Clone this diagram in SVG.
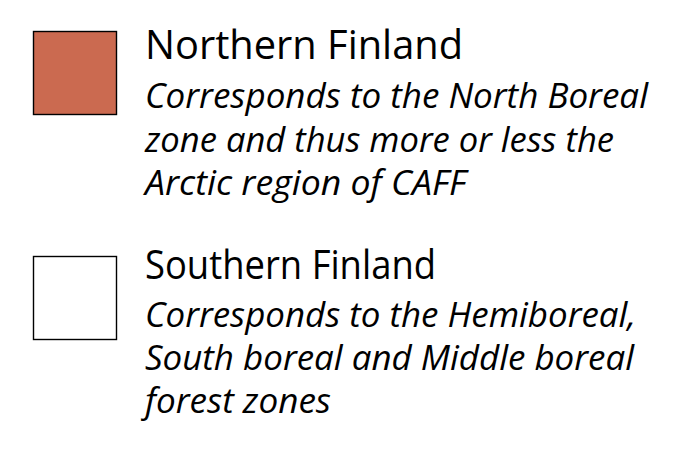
<svg xmlns="http://www.w3.org/2000/svg" width="699" height="458" viewBox="0 0 699 458">
<style>
.sw{stroke:#000;stroke-width:1.4}
.t{font-family:"Open Sans","Liberation Sans",Arial,sans-serif;font-size:40px;fill:#000}
.d{font-family:"Open Sans","Liberation Sans",Arial,sans-serif;font-size:34px;font-style:italic;fill:#000}
</style>
<rect width="699" height="458" fill="#fff"/>
<g id="northern">
<rect class="sw" x="33.5" y="31.5" width="83" height="83" fill="#CB6A50"/>
<text class="t" x="145" y="59" textLength="318" lengthAdjust="spacingAndGlyphs">Northern Finland</text>
<text class="d" x="145" y="108" textLength="503" lengthAdjust="spacingAndGlyphs">Corresponds to the North Boreal</text>
<text class="d" x="145" y="152" textLength="469" lengthAdjust="spacingAndGlyphs">zone and thus more or less the</text>
<text class="d" x="145" y="195" textLength="321" lengthAdjust="spacingAndGlyphs">Arctic region of CAFF</text>
</g>
<g id="southern">
<rect class="sw" x="33.5" y="256.5" width="83" height="83" fill="#fff"/>
<text class="t" x="145" y="279" textLength="291" lengthAdjust="spacingAndGlyphs">Southern Finland</text>
<text class="d" x="145" y="327" textLength="491" lengthAdjust="spacingAndGlyphs">Corresponds to the Hemiboreal,</text>
<text class="d" x="145" y="370" textLength="489" lengthAdjust="spacingAndGlyphs">South boreal and Middle boreal</text>
<text class="d" x="145" y="413" textLength="186" lengthAdjust="spacingAndGlyphs">forest zones</text>
</g>
<g id="connectors"/>
</svg>
